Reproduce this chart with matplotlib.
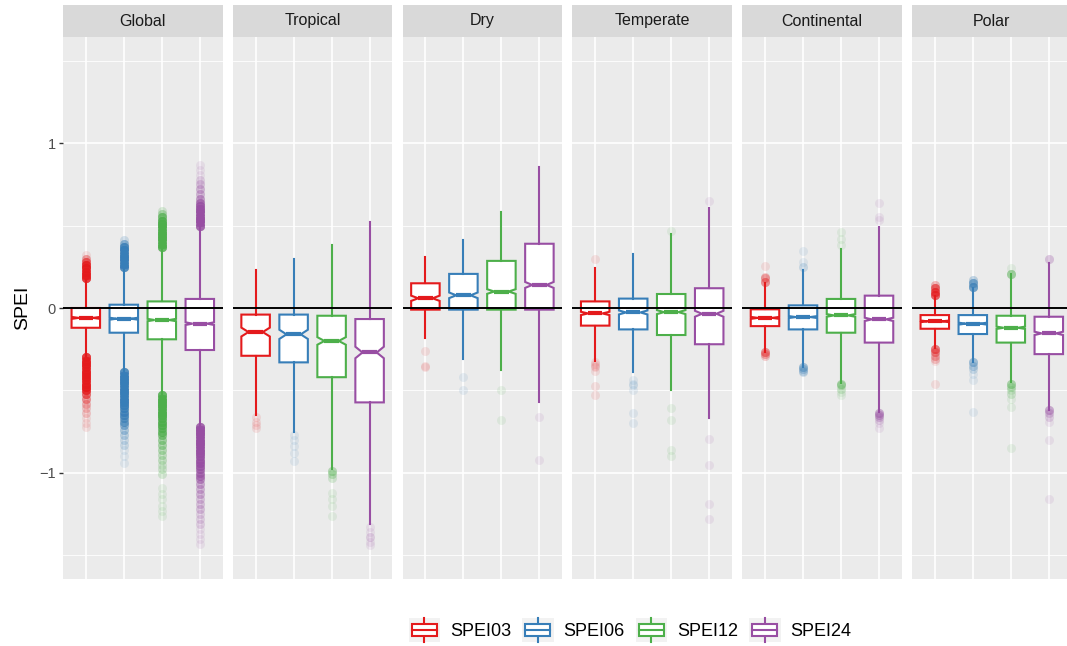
import numpy as np
import matplotlib
matplotlib.use('Agg')
import matplotlib.pyplot as plt
from matplotlib.patches import Rectangle
from matplotlib.lines import Line2D
from matplotlib.legend_handler import HandlerBase

plt.rcParams['font.family'] = ['Liberation Sans', 'DejaVu Sans']

regions = ['Global', 'Tropical', 'Dry', 'Temperate', 'Continental', 'Polar']
series = ['SPEI03', 'SPEI06', 'SPEI12', 'SPEI24']
colors = ['#E41A1C', '#377EB8', '#4DAF4A', '#984EA3']

# box statistics per region, one value per series
q1 = {
    'Global':      [-0.12, -0.15, -0.19, -0.255],
    'Tropical':    [-0.29, -0.33, -0.42, -0.573],
    'Dry':         [-0.01, -0.01, -0.01, -0.01],
    'Temperate':   [-0.107, -0.13, -0.164, -0.22],
    'Continental': [-0.11, -0.13, -0.15, -0.21],
    'Polar':       [-0.126, -0.158, -0.21, -0.28],
}
med = {
    'Global':      [-0.06, -0.065, -0.073, -0.095],
    'Tropical':    [-0.146, -0.16, -0.20, -0.27],
    'Dry':         [0.059, 0.077, 0.10, 0.14],
    'Temperate':   [-0.033, -0.027, -0.025, -0.035],
    'Continental': [-0.06, -0.055, -0.045, -0.069],
    'Polar':       [-0.081, -0.095, -0.12, -0.154],
}
q3 = {
    'Global':      [0.0, 0.02, 0.04, 0.055],
    'Tropical':    [-0.04, -0.04, -0.047, -0.067],
    'Dry':         [0.15, 0.207, 0.286, 0.39],
    'Temperate':   [0.04, 0.057, 0.085, 0.12],
    'Continental': [-0.008, 0.016, 0.055, 0.075],
    'Polar':       [-0.043, -0.043, -0.047, -0.053],
}
whislo = {
    'Global':      [-0.29, -0.38, -0.52, -0.71],
    'Tropical':    [-0.65, -0.75, -0.975, -1.31],
    'Dry':         [-0.18, -0.31, -0.377, -0.57],
    'Temperate':   [-0.32, -0.39, -0.50, -0.67],
    'Continental': [-0.265, -0.357, -0.458, -0.634],
    'Polar':       [-0.245, -0.326, -0.45, -0.62],
}
whishi = {
    'Global':      [0.17, 0.24, 0.36, 0.49],
    'Tropical':    [0.23, 0.30, 0.38, 0.52],
    'Dry':         [0.31, 0.41, 0.585, 0.855],
    'Temperate':   [0.245, 0.33, 0.448, 0.61],
    'Continental': [0.15, 0.23, 0.357, 0.49],
    'Polar':       [0.07, 0.12, 0.207, 0.275],
}
# half height of the notch
notch = {
    'Global':      [0.006, 0.006, 0.007, 0.008],
    'Tropical':    [0.027, 0.028, 0.023, 0.035],
    'Dry':         [0.016, 0.017, 0.014, 0.018],
    'Temperate':   [0.010, 0.012, 0.012, 0.018],
    'Continental': [0.006, 0.006, 0.008, 0.010],
    'Polar':       [0.005, 0.006, 0.007, 0.010],
}

# outliers as (value, number of points) pairs
fliers = {
    'Global': [
        [(0.18, 16), (0.20, 16), (0.22, 16), (0.24, 16), (0.26, 14), (0.28, 8), (0.30, 4), (0.32, 1),
         (-0.30, 16), (-0.32, 16), (-0.34, 16), (-0.36, 16), (-0.38, 16), (-0.40, 16), (-0.42, 16),
         (-0.44, 16), (-0.46, 16), (-0.48, 16), (-0.50, 14), (-0.52, 8), (-0.55, 5), (-0.58, 3),
         (-0.61, 2), (-0.64, 2), (-0.67, 1), (-0.70, 1), (-0.72, 1)],
        [(0.25, 16), (0.27, 16), (0.29, 16), (0.31, 16), (0.33, 16), (0.35, 16), (0.37, 14), (0.39, 6), (0.41, 2),
         (-0.39, 16), (-0.41, 16), (-0.43, 16), (-0.45, 16), (-0.47, 16), (-0.49, 16), (-0.51, 16),
         (-0.53, 16), (-0.55, 16), (-0.57, 16), (-0.59, 14), (-0.61, 12), (-0.63, 10), (-0.65, 10),
         (-0.67, 8), (-0.69, 8), (-0.71, 6), (-0.74, 4), (-0.77, 3), (-0.80, 2), (-0.83, 2),
         (-0.86, 1), (-0.90, 1), (-0.94, 1)],
        [(0.37, 16), (0.39, 16), (0.41, 16), (0.43, 16), (0.45, 16), (0.47, 16), (0.49, 16), (0.51, 16),
         (0.53, 14), (0.55, 10), (0.57, 4), (0.59, 2),
         (-0.53, 16), (-0.55, 16), (-0.57, 16), (-0.59, 16), (-0.61, 16), (-0.63, 16), (-0.65, 16),
         (-0.67, 14), (-0.69, 12), (-0.71, 12), (-0.73, 10), (-0.75, 10), (-0.77, 8), (-0.80, 6),
         (-0.83, 5), (-0.86, 4), (-0.89, 3), (-0.92, 3), (-0.95, 2), (-0.98, 2), (-1.01, 2),
         (-1.09, 1), (-1.13, 1), (-1.16, 1), (-1.20, 1), (-1.23, 1), (-1.26, 1)],
        [(0.50, 16), (0.52, 16), (0.54, 16), (0.56, 16), (0.58, 16), (0.60, 14), (0.62, 12), (0.64, 10),
         (0.66, 6), (0.69, 4), (0.72, 4), (0.75, 3), (0.78, 2), (0.81, 1), (0.84, 1), (0.87, 1),
         (-0.72, 16), (-0.74, 16), (-0.76, 16), (-0.78, 16), (-0.80, 16), (-0.82, 16), (-0.84, 16),
         (-0.86, 16), (-0.88, 14), (-0.90, 14), (-0.92, 12), (-0.94, 12), (-0.96, 10), (-0.98, 10),
         (-1.00, 8), (-1.02, 8), (-1.04, 7), (-1.07, 5), (-1.10, 4), (-1.13, 4), (-1.16, 3),
         (-1.19, 3), (-1.22, 3), (-1.25, 2), (-1.28, 2), (-1.31, 2), (-1.34, 1), (-1.37, 1),
         (-1.40, 1), (-1.43, 1)],
    ],
    'Tropical': [
        [(-0.66, 1), (-0.69, 1), (-0.71, 1), (-0.73, 1)],
        [(-0.77, 1), (-0.80, 1), (-0.84, 1), (-0.88, 1), (-0.93, 1)],
        [(-0.99, 4), (-1.01, 3), (-1.03, 2), (-1.12, 1), (-1.16, 1), (-1.20, 1), (-1.26, 1)],
        [(-1.33, 1), (-1.36, 1), (-1.39, 2), (-1.42, 1), (-1.44, 1)],
    ],
    'Dry': [
        [(-0.26, 1), (-0.35, 1), (-0.36, 1)],
        [(-0.42, 1), (-0.50, 1)],
        [(-0.50, 1), (-0.68, 1)],
        [(-0.66, 1), (-0.92, 1)],
    ],
    'Temperate': [
        [(0.295, 1), (-0.33, 1), (-0.34, 1), (-0.35, 1), (-0.36, 1), (-0.38, 1), (-0.475, 1), (-0.53, 1)],
        [(-0.44, 1), (-0.46, 1), (-0.47, 1), (-0.50, 1), (-0.64, 1), (-0.70, 1)],
        [(0.468, 1), (-0.61, 1), (-0.68, 1), (-0.86, 1), (-0.90, 1)],
        [(0.65, 1), (-0.795, 1), (-0.95, 1), (-1.19, 1), (-1.28, 1)],
    ],
    'Continental': [
        [(0.16, 5), (0.18, 3), (0.19, 2), (0.255, 1), (-0.27, 5), (-0.28, 3), (-0.29, 2)],
        [(0.25, 2), (0.28, 1), (0.345, 1), (-0.36, 5), (-0.37, 3), (-0.38, 2), (-0.39, 2)],
        [(0.38, 1), (0.42, 1), (0.464, 1), (-0.46, 4), (-0.47, 3), (-0.49, 2), (-0.51, 1), (-0.53, 1)],
        [(0.535, 1), (0.555, 1), (0.636, 1), (-0.64, 5), (-0.65, 4), (-0.66, 3), (-0.68, 2),
         (-0.70, 1), (-0.73, 1)],
    ],
    'Polar': [
        [(0.08, 10), (0.10, 10), (0.12, 8), (0.14, 3), (-0.25, 7), (-0.27, 5), (-0.29, 3),
         (-0.31, 2), (-0.32, 1), (-0.46, 1)],
        [(0.13, 10), (0.15, 8), (0.17, 3), (-0.33, 5), (-0.35, 3), (-0.37, 2), (-0.40, 1),
         (-0.44, 1), (-0.634, 1)],
        [(0.207, 6), (0.24, 1), (-0.46, 5), (-0.48, 3), (-0.50, 2), (-0.52, 2), (-0.55, 1),
         (-0.60, 1), (-0.85, 1)],
        [(0.296, 3), (-0.62, 5), (-0.64, 3), (-0.66, 2), (-0.69, 1), (-0.80, 1), (-1.16, 1)],
    ],
}

W, H = 1067, 646
fig = plt.figure(figsize=(W / 100, H / 100), dpi=100)

panel_left = 63
panel_step = 169.8
panel_w = 159.6
panel_top = 37
panel_bot = 579
strip_top = 5

for i, reg in enumerate(regions):
    x0 = panel_left + i * panel_step
    ax = fig.add_axes([x0 / W, (H - panel_bot) / H, panel_w / W, (panel_bot - panel_top) / H])
    ax.set_facecolor('#EBEBEB')
    for s in ax.spines.values():
        s.set_visible(False)

    for j in range(4):
        c = colors[j]
        fl = np.repeat([v for v, n in fliers[reg][j]], [n for v, n in fliers[reg][j]])
        st = {
            'med': med[reg][j], 'q1': q1[reg][j], 'q3': q3[reg][j],
            'whislo': whislo[reg][j], 'whishi': whishi[reg][j],
            'cilo': med[reg][j] - notch[reg][j], 'cihi': med[reg][j] + notch[reg][j],
            'fliers': fl,
        }
        ax.bxp([st], positions=[j + 1], widths=0.75, shownotches=True,
               showcaps=False, patch_artist=True,
               boxprops=dict(facecolor='white', edgecolor=c, linewidth=1.5),
               whiskerprops=dict(color=c, linewidth=1.5),
               medianprops=dict(color=c, linewidth=3.0, solid_capstyle='butt'),
               flierprops=dict(marker='o', markersize=6.5, markerfacecolor=c,
                               markeredgewidth=0, alpha=0.1, linestyle='none'),
               zorder=3)

    ax.axhline(0, color='black', linewidth=1.4, zorder=5)

    ax.set_xlim(0.4, 4.6)
    ax.set_ylim(-1.645, 1.645)
    ax.set_xticks([1, 2, 3, 4])
    ax.set_xticklabels([])
    ax.set_yticks([-1, 0, 1])
    ax.set_yticks([-1.5, -0.5, 0.5, 1.5], minor=True)
    ax.grid(which='major', color='white', linewidth=1.2)
    ax.grid(which='minor', axis='y', color='white', linewidth=0.6)
    ax.set_axisbelow(True)
    ax.tick_params(axis='x', length=0)
    ax.tick_params(axis='y', which='minor', length=0)
    if i == 0:
        ax.set_yticklabels(['\u22121', '0', '1'])
        ax.tick_params(axis='y', which='major', length=3.2, width=1.0, color='#333333',
                       labelcolor='#4D4D4D', labelsize=10.5, pad=2)
        ax.set_ylabel('SPEI', fontsize=14, color='black', labelpad=6)
    else:
        ax.set_yticklabels([])
        ax.tick_params(axis='y', which='major', length=0)

    sax = fig.add_axes([x0 / W, (H - panel_top) / H, panel_w / W, (panel_top - strip_top) / H])
    sax.set_facecolor('#D9D9D9')
    sax.set_xticks([])
    sax.set_yticks([])
    for s in sax.spines.values():
        s.set_visible(False)
    sax.text(0.5, 0.5, reg, ha='center', va='center', fontsize=11.5, color='#1A1A1A',
             transform=sax.transAxes)


class BoxKey(HandlerBase):
    def create_artists(self, legend, orig_handle, xdescent, ydescent, width, height, fontsize, trans):
        c = orig_handle.get_color()
        bg = Rectangle((-xdescent, -ydescent), width, height, facecolor='#F2F2F2',
                       edgecolor='none', transform=trans)
        cx = -xdescent + width / 2
        y0 = -ydescent
        vline = Line2D([cx, cx], [y0, y0 + height], color=c, linewidth=1.5, transform=trans)
        box = Rectangle((-xdescent + width * 0.1, y0 + height * 0.26), width * 0.8, height * 0.48,
                        facecolor='white', edgecolor=c, linewidth=1.5, transform=trans)
        mline = Line2D([-xdescent + width * 0.1, -xdescent + width * 0.9],
                       [y0 + height * 0.5, y0 + height * 0.5], color=c, linewidth=1.5,
                       transform=trans)
        return [bg, vline, box, mline]


handles = [Line2D([], [], color=c) for c in colors]
fig.legend(handles, series, handler_map={Line2D: BoxKey()}, loc='center',
           bbox_to_anchor=(630 / W, (H - 630) / H), ncol=4, frameon=False,
           fontsize=13, handlelength=1.75, handleheight=1.65, handletextpad=0.55,
           columnspacing=0.6, borderpad=0, borderaxespad=0)

fig.savefig('out.png', dpi=100, facecolor='white')
